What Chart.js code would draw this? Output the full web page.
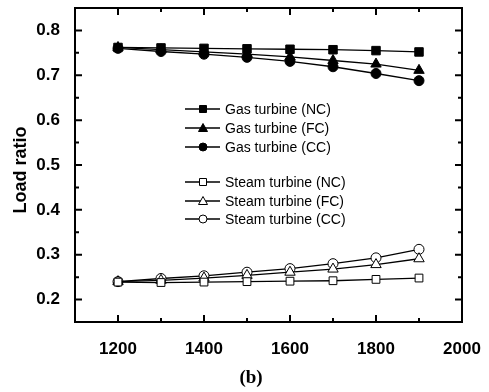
<!DOCTYPE html>
<html>
<head>
<meta charset="utf-8">
<script src="https://cdn.jsdelivr.net/npm/chart.js@4/dist/chart.umd.min.js"></script>
<style>
  html, body { margin: 0; padding: 0; background: #fff; }
  #wrap { width: 489px; height: 392px; }
</style>
</head>
<body>
<div id="wrap"><canvas id="loadChart" width="489" height="392"></canvas></div>
<script>
// temperature points (x axis)
const temps = [1200, 1300, 1400, 1500, 1600, 1700, 1800, 1900];

const gasNC = [0.762, 0.761, 0.760, 0.759, 0.758, 0.757, 0.755, 0.752];
const gasFC = [0.762, 0.757, 0.752, 0.747, 0.741, 0.733, 0.725, 0.711];
const gasCC = [0.760, 0.753, 0.747, 0.740, 0.731, 0.719, 0.704, 0.688];
const steamNC = [0.239, 0.238, 0.239, 0.240, 0.241, 0.242, 0.245, 0.248];
const steamFC = [0.240, 0.243, 0.248, 0.254, 0.261, 0.268, 0.278, 0.291];
const steamCC = [0.240, 0.247, 0.253, 0.261, 0.269, 0.280, 0.293, 0.312];

const xMajor = [1200, 1400, 1600, 1800, 2000];
const xMinor = [1300, 1500, 1700, 1900];
const yMajor = [0.2, 0.3, 0.4, 0.5, 0.6, 0.7, 0.8];
const yMinor = [0.25, 0.35, 0.45, 0.55, 0.65, 0.75];

const pts = arr => arr.map((v, i) => ({x: temps[i], y: v}));

function series(label, arr, style, filled, radius) {
    return {
        label: label,
        data: pts(arr),
        borderColor: '#000',
        borderWidth: 1.3,
        backgroundColor: filled ? '#000' : '#fff',
        pointStyle: style,
        pointRadius: radius,
        pointBorderWidth: 1,
        pointBorderColor: '#000',
        pointBackgroundColor: filled ? '#000' : '#fff',
        tension: 0
    };
}

// draws the legend marker by hand
function marker(ctx, style, filled, x, y) {
    ctx.beginPath();
    if (style === 'rect') {
        ctx.rect(x - 3.5, y - 3.5, 7, 7);
    } else if (style === 'triangle') {
        ctx.moveTo(x, y - 4.5);
        ctx.lineTo(x + 4.5, y + 3.5);
        ctx.lineTo(x - 4.5, y + 3.5);
        ctx.closePath();
    } else {
        ctx.arc(x, y, 4, 0, Math.PI * 2);
    }
    ctx.fillStyle = filled ? '#000' : '#fff';
    ctx.fill();
    ctx.lineWidth = 1;
    ctx.strokeStyle = '#000';
    ctx.stroke();
}

const frameAndText = {
    id: 'frameAndText',
    afterDraw(chart) {
        const {ctx, chartArea: {top, bottom, left, right}} = chart;
        const xs = chart.scales.x, ys = chart.scales.y;
        ctx.save();
        ctx.strokeStyle = '#000';
        ctx.lineWidth = 2;
        ctx.strokeRect(left, top, right - left, bottom - top);

        ctx.lineWidth = 2;
        ctx.beginPath();
        xMajor.concat(xMinor).forEach(v => {
            const len = xMajor.includes(v) ? 7 : 4;
            const px = xs.getPixelForValue(v);
            ctx.moveTo(px, bottom); ctx.lineTo(px, bottom - len);
            ctx.moveTo(px, top); ctx.lineTo(px, top + len);
        });
        yMajor.concat(yMinor).forEach(v => {
            const len = yMajor.includes(v) ? 7 : 4;
            const py = ys.getPixelForValue(v);
            ctx.moveTo(left, py); ctx.lineTo(left + len, py);
            ctx.moveTo(right, py); ctx.lineTo(right - len, py);
        });
        ctx.stroke();

        // legend
        ctx.font = '14px "Liberation Sans", Arial, sans-serif';
        ctx.textBaseline = 'middle';
        ctx.textAlign = 'left';
        const rows = [109, 128, 147, 182, 201, 219];
        chart.data.datasets.forEach((ds, i) => {
            const ly = rows[i];
            ctx.lineWidth = 1.3;
            ctx.strokeStyle = '#000';
            ctx.beginPath();
            ctx.moveTo(185, ly); ctx.lineTo(220, ly);
            ctx.stroke();
            marker(ctx, ds.pointStyle, ds.pointBackgroundColor === '#000', 203, ly);
            ctx.fillStyle = '#000';
            ctx.fillText(ds.label, 225, ly + 1);
        });

        // axis title
        ctx.save();
        ctx.translate(21, 170);
        ctx.rotate(-Math.PI / 2);
        ctx.textAlign = 'center';
        ctx.font = 'bold 18px "Liberation Sans", Arial, sans-serif';
        ctx.fillText('Load ratio', 0, 0);
        ctx.restore();

        ctx.textAlign = 'center';
        ctx.font = 'bold 19px "Liberation Serif", "Times New Roman", serif';
        ctx.fillText('(b)', 251, 378);
        ctx.restore();
    }
};

new Chart(document.getElementById('loadChart'), {
    type: 'line',
    data: {
        datasets: [
            series('Gas turbine (NC)', gasNC, 'rect', true, 6),
            series('Gas turbine (FC)', gasFC, 'triangle', true, 6),
            series('Gas turbine (CC)', gasCC, 'circle', true, 5),
            series('Steam turbine (NC)', steamNC, 'rect', false, 5.5),
            series('Steam turbine (FC)', steamFC, 'triangle', false, 6),
            series('Steam turbine (CC)', steamCC, 'circle', false, 5)
        ]
    },
    options: {
        responsive: false,
        animation: false,
        layout: {padding: {top: 8, right: 27, left: 0, bottom: 0}},
        plugins: {legend: {display: false}, tooltip: {enabled: false}},
        scales: {
            x: {
                type: 'linear',
                min: 1100, max: 2000,
                afterBuildTicks: s => { s.ticks = xMajor.map(v => ({value: v})); },
                afterFit: s => { s.height = 70; s.paddingLeft = 0; s.paddingRight = 0; },
                grid: {display: false},
                border: {display: false},
                ticks: {
                    padding: 9,
                    color: '#000',
                    callback: v => String(v),
                    font: {family: '"Liberation Sans", Arial, sans-serif', size: 17, weight: 'bold'}
                }
            },
            y: {
                min: 0.15, max: 0.85,
                afterBuildTicks: s => { s.ticks = yMajor.map(v => ({value: v})); },
                afterFit: s => { s.width = 75; s.paddingTop = 0; s.paddingBottom = 0; },
                grid: {display: false},
                border: {display: false},
                ticks: {
                    padding: 7,
                    color: '#000',
                    callback: v => v.toFixed(1),
                    font: {family: '"Liberation Sans", Arial, sans-serif', size: 17, weight: 'bold'}
                }
            }
        }
    },
    plugins: [frameAndText]
});
</script>
</body>
</html>
